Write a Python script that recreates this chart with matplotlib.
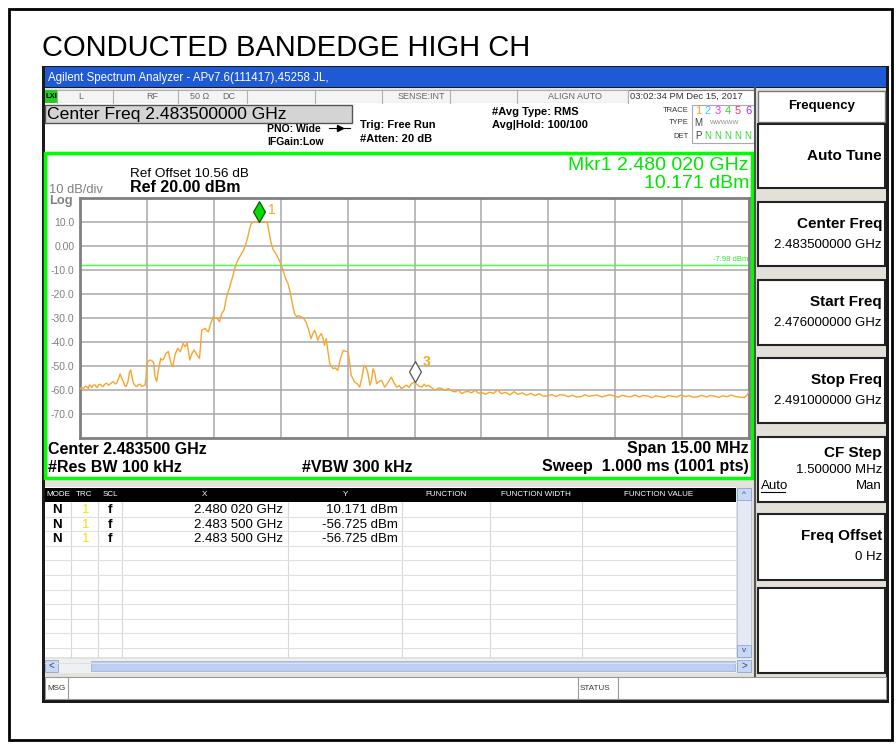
import numpy as np
import matplotlib
matplotlib.use('Agg')
import matplotlib.pyplot as plt
from matplotlib.patches import Rectangle
from matplotlib.path import Path

plt.rcParams['font.family'] = ['Liberation Sans', 'DejaVu Sans']

# ---- data ----
title = 'CONDUCTED BANDEDGE HIGH CH'
start_ghz = 2.476
stop_ghz = 2.491
ref_dbm = 20.0
bottom_dbm = -80.0
limit_dbm = -7.98

# trace: offset from start freq (MHz) and level (dBm)
freq_offset_mhz = [
    0.00, 0.04, 0.08, 0.12, 0.15, 0.19, 0.21, 0.24, 0.26, 0.30, 0.34, 0.37, 0.39, 0.42, 0.45,
    0.49, 0.52, 0.56, 0.60, 0.64, 0.67, 0.71, 0.75, 0.79, 0.82, 0.86, 0.90, 0.93, 0.97, 1.00,
    1.03, 1.06, 1.08, 1.11, 1.14, 1.17, 1.20, 1.24, 1.27, 1.31, 1.35, 1.38, 1.42, 1.46, 1.48,
    1.50, 1.54, 1.57, 1.61, 1.65, 1.68, 1.72, 1.76, 1.81, 1.84, 1.87, 1.93, 1.98, 2.04, 2.08,
    2.13, 2.19, 2.25, 2.31, 2.36, 2.40, 2.46, 2.51, 2.56, 2.62, 2.68, 2.73, 2.78, 2.81, 2.85,
    2.88, 2.93, 2.99, 3.04, 3.07, 3.13, 3.18, 3.23, 3.29, 3.35, 3.41, 3.49, 3.55, 3.60, 3.66,
    3.71, 3.76, 3.80, 3.84, 3.90, 3.96, 4.02, 4.08, 4.14, 4.20, 4.24, 4.28, 4.33, 4.39, 4.45,
    4.50, 4.56, 4.61, 4.66, 4.71, 4.76, 4.81, 4.86, 4.90, 4.96, 5.01, 5.07, 5.12, 5.18, 5.22,
    5.26, 5.30, 5.33, 5.37, 5.41, 5.45, 5.48, 5.52, 5.56, 5.60, 5.67, 5.72, 5.78, 5.84, 5.90,
    5.95, 6.01, 6.05, 6.08, 6.16, 6.22, 6.27, 6.32, 6.37, 6.41, 6.45, 6.50, 6.54, 6.57, 6.61,
    6.65, 6.70, 6.76, 6.80, 6.83, 6.87, 6.91, 6.98, 7.04, 7.10, 7.16, 7.21, 7.27, 7.32, 7.38,
    7.43, 7.50, 7.55, 7.60, 7.66, 7.72, 7.76, 7.81, 7.88, 7.96, 8.04, 8.11, 8.18, 8.26, 8.34,
    8.41, 8.48, 8.56, 8.63, 8.71, 8.78, 8.86, 8.93, 9.01, 9.10, 9.18, 9.27, 9.36, 9.45, 9.54,
    9.64, 9.73, 9.82, 9.92, 10.01, 10.11, 10.20, 10.30, 10.39, 10.48, 10.57, 10.67, 10.76, 10.85, 10.95,
    11.04, 11.13, 11.23, 11.32, 11.41, 11.51, 11.60, 11.70, 11.79, 11.88, 11.98, 12.07, 12.16, 12.26, 12.35,
    12.44, 12.54, 12.63, 12.73, 12.82, 12.91, 13.01, 13.10, 13.19, 13.29, 13.38, 13.47, 13.57, 13.66, 13.75,
    13.85, 13.94, 14.04, 14.13, 14.22, 14.32, 14.41, 14.51, 14.60, 14.69, 14.79, 14.90, 14.96, 15.00]
level_dbm = [
    -59.7, -59.0, -59.3, -58.4, -58.6, -59.4, -57.9, -58.2, -59.0, -58.0, -57.9, -58.8, -58.9, -57.8, -57.6,
    -58.4, -58.6, -57.5, -57.2, -58.0, -57.6, -57.0, -56.5, -57.5, -57.2, -55.5, -53.3, -54.8, -56.5, -58.0,
    -58.6, -57.4, -56.0, -52.5, -51.7, -55.0, -57.2, -58.2, -58.6, -57.8, -57.6, -58.4, -58.3, -57.9, -55.1,
    -48.6, -48.0, -47.5, -47.8, -48.5, -54.4, -56.5, -51.5, -46.8, -47.5, -47.3, -44.7, -44.0, -48.9, -50.3,
    -45.4, -42.6, -44.0, -40.6, -42.0, -40.3, -47.5, -44.8, -43.3, -45.4, -46.8, -35.0, -34.6, -34.3, -35.5,
    -35.7, -32.2, -29.4, -30.0, -30.1, -31.5, -28.1, -26.7, -21.0, -17.5, -13.6, -8.1, -5.5, -3.9, -2.0,
    0.3, 3.5, 7.0, 9.4, 10.0, 10.0, 10.17, 10.1, 10.1, 9.8, 5.5, 1.7, -1.5, -3.2, -5.2,
    -7.4, -10.5, -13.6, -15.5, -19.0, -24.0, -28.2, -29.5, -29.0, -29.6, -30.0, -31.7, -34.5, -38.6, -36.5,
    -35.1, -37.0, -39.3, -37.5, -36.5, -38.5, -41.4, -38.6, -44.0, -49.0, -51.1, -50.8, -51.8, -47.0, -43.5,
    -43.8, -44.2, -49.0, -53.9, -56.7, -57.5, -58.8, -55.0, -49.7, -50.5, -52.5, -58.0, -55.5, -51.1, -53.0,
    -57.4, -56.5, -56.0, -57.5, -58.8, -57.9, -56.7, -54.6, -57.0, -58.8, -58.2, -59.4, -58.6, -58.0, -58.9,
    -57.4, -56.7, -57.6, -58.4, -58.8, -57.6, -58.5, -58.0, -59.0, -60.1, -59.2, -59.4, -60.2, -59.4, -60.4,
    -60.8, -60.0, -61.5, -60.8, -60.6, -61.2, -60.1, -61.3, -61.1, -61.8, -60.9, -61.4, -60.0, -61.5, -61.0,
    -62.0, -60.7, -61.8, -61.2, -62.2, -61.4, -62.3, -61.6, -62.6, -62.5, -61.9, -62.7, -62.0, -62.1, -62.8,
    -62.2, -62.9, -62.8, -62.0, -62.6, -62.3, -62.1, -62.9, -62.4, -62.0, -62.5, -63.0, -62.2, -62.7, -62.8,
    -62.1, -62.9, -62.3, -62.5, -63.2, -62.4, -62.8, -63.1, -62.3, -62.6, -62.9, -62.1, -62.7, -62.4, -63.0,
    -62.8, -62.2, -62.9, -62.3, -62.5, -63.1, -62.4, -62.8, -62.1, -62.7, -63.0, -63.1, -62.0, -60.7]

ytick_vals = [10, 0, -10, -20, -30, -40, -50, -60, -70]
ytick_labels = ['10.0', '0.00', '-10.0', '-20.0', '-30.0', '-40.0', '-50.0', '-60.0', '-70.0']

mkr_mode = ['N', 'N', 'N']
mkr_trc = ['1', '1', '1']
mkr_scl = ['f', 'f', 'f']
mkr_x_ghz = [2.480020, 2.483500, 2.483500]
mkr_y_dbm = [10.171, -56.725, -56.725]
mkr_x_text = ['2.480 020 GHz', '2.483 500 GHz', '2.483 500 GHz']
mkr_y_text = ['10.171 dBm', '-56.725 dBm', '-56.725 dBm']

softkey_titles = ['Auto Tune', 'Center Freq', 'Start Freq', 'Stop Freq', 'CF Step', 'Freq Offset']
softkey_values = ['', '2.483500000 GHz', '2.476000000 GHz', '2.491000000 GHz', '1.500000 MHz', '0 Hz']

freq_ghz = start_ghz + np.array(freq_offset_mhz) / 1000.0

# ---- figure, pixel-space background axes ----
fig = plt.figure(figsize=(8.96, 7.45), dpi=100)
bg = fig.add_axes([0, 0, 1, 1])
bg.set_xlim(0, 896)
bg.set_ylim(745, 0)
bg.axis('off')


def box(x0, y0, x1, y1, fc='white', ec='none', lw=1.0, z=1):
    bg.add_patch(Rectangle((x0, y0), x1 - x0, y1 - y0, fc=fc, ec=ec, lw=lw, zorder=z))


def txt(x, y, s, size=8, ha='left', color='black', weight='normal', **kw):
    bg.text(x, y, s, fontsize=size, ha=ha, va='center', color=color, weight=weight, zorder=5, **kw)


# page frame + title
box(9, 9, 892, 740, fc='white', ec='black', lw=2)
txt(42, 48, title, size=21)

# screenshot frame
box(42, 66, 889, 703, fc='#1a1a1a')
box(45, 88, 886, 700, fc='#e4e2dc')

# title bar
box(45, 67, 886, 87, fc='#1f5ad6')
txt(48, 77.5, 'Agilent Spectrum Analyzer - APv7.6(111417),45258 JL,', size=8.3, color='white')

# status row
box(45, 90, 755, 103, fc='#f4f4f4', ec='#b0b0b0', lw=0.8)
box(45, 90, 57, 103, fc='#22cc22')
txt(46, 96.5, 'LXI', size=5.5, weight='bold')
for sx in [57, 113, 178, 247, 315, 382, 450, 517, 628]:
    bg.plot([sx, sx], [90, 103], color='#b0b0b0', lw=0.8, zorder=2)
txt(78, 96.5, 'L', size=6.5, color='#666666')
txt(146, 96.5, 'RF', size=6.5, color='#666666')
txt(190, 96.5, '50 Ω', size=6.5, color='#666666')
txt(222, 96.5, 'DC', size=6.5, color='#666666')
txt(445, 96.5, 'SENSE:INT', size=6.5, ha='right', color='#666666')
txt(575, 96.5, 'ALIGN AUTO', size=6.5, ha='center', color='#666666')
box(628, 90, 755, 103, fc='white', ec='#808080', lw=0.8)
txt(630, 96.5, '03:02:34 PM Dec 15, 2017', size=6.8, color='#333333')

# settings area
box(45, 103, 755, 152, fc='white')
box(45, 105, 352, 123, fc='#d4d4d4', ec='#555555', lw=1)
txt(47, 114, 'Center Freq 2.483500000 GHz', size=12.6)
txt(267, 129, 'PNO: Wide', size=7.5, weight='bold')
bg.plot([329, 350], [128, 128], color='black', lw=0.8, zorder=5)
bg.plot([340], [128], marker='>', ms=4, color='black', zorder=5)
txt(267, 142, 'IFGain:Low', size=7.5, weight='bold')
txt(360, 125, 'Trig: Free Run', size=8, weight='bold')
txt(360, 139, '#Atten: 20 dB', size=8, weight='bold')
txt(492, 112, '#Avg Type: RMS', size=8, weight='bold')
txt(492, 125, 'Avg|Hold: 100/100', size=8, weight='bold')
txt(689, 111, 'TRACE', size=5.5, ha='right', color='#333333')
txt(689, 123, 'TYPE', size=5.5, ha='right', color='#333333')
txt(689, 136, 'DET', size=5.5, ha='right', color='#333333')
box(692, 105, 754, 143, fc='white', ec='#aaaaaa', lw=0.8)
trace_colors = ['#f5a623', '#33ccff', '#ff33ff', '#33dd33', '#ff3377', '#9933ff']
for i, c in enumerate(trace_colors):
    txt(698 + 10 * i, 111, str(i + 1), size=8, ha='center', color=c)
txt(698, 123, 'M', size=7, ha='center', color='#444444')
txt(725, 123, 'WWWWW', size=4.5, ha='center', color='#888888')
txt(698, 136, 'P', size=7, ha='center', color='#444444')
for i in range(5):
    txt(708 + 10 * i, 136, 'N', size=7, ha='center', color='#33dd33')

# green plot panel
box(45, 153, 752, 478, fc='white', ec='#00ff00', lw=2.5)
txt(130, 174, 'Ref Offset 10.56 dB', size=9.7)
txt(130, 188, 'Ref 20.00 dBm', size=11.5, weight='bold')
txt(49, 190, '10 dB/div', size=9.3, color='#808080')
txt(49, 201, 'Log', size=9.3, color='#808080', weight='bold')
txt(749, 165, f'Mkr1 {mkr_x_text[0]}', size=14, ha='right', color='#00e600')
txt(749, 184, mkr_y_text[0], size=14, ha='right', color='#00e600')
txt(48, 449, 'Center 2.483500 GHz', size=11.5, weight='bold')
txt(48, 467, '#Res BW 100 kHz', size=11.5, weight='bold')
txt(302, 467, '#VBW 300 kHz', size=11.5, weight='bold')
txt(749, 449, 'Span 15.00 MHz', size=11.5, ha='right', weight='bold')
txt(749, 467, 'Sweep  1.000 ms (1001 pts)', size=11.5, ha='right', weight='bold')

# marker table
box(45, 487, 736, 657, fc='white')
box(45, 488, 736, 502, fc='black')
col_edges = [45, 71, 98, 122, 288, 402, 490, 582, 736]
headers = ['MODE', 'TRC', 'SCL', 'X', 'Y', 'FUNCTION', 'FUNCTION WIDTH', 'FUNCTION VALUE']
for i, h in enumerate(headers):
    txt((col_edges[i] + col_edges[i + 1]) / 2, 495, h, size=5.8, ha='center', color='white')
    if i > 0:
        bg.plot([col_edges[i]] * 2, [502, 657], color='#d8d8d8', lw=0.8, zorder=2)
for k in range(11):
    yy = 502 + 14.6 * (k + 1)
    bg.plot([45, 736], [yy, yy], color='#e0e0e0', lw=0.8, zorder=2)
for r in range(len(mkr_mode)):
    yy = 510 + 14.6 * r
    txt(57, yy, mkr_mode[r], size=9.5, ha='center', weight='bold')
    txt(86, yy, mkr_trc[r], size=9.5, ha='center', color='#f2e200')
    txt(110, yy, mkr_scl[r], size=9.5, ha='center', weight='bold')
    txt(283, yy, mkr_x_text[r], size=9.5, ha='right')
    txt(398, yy, mkr_y_text[r], size=9.5, ha='right')

# scrollbars
box(737, 488, 751, 657, fc='#e3eaf6', ec='#b8c4d8', lw=0.6)
box(737, 488, 751, 500, fc='#c8d8f4', ec='#8ea6d0', lw=0.6)
box(737, 645, 751, 657, fc='#c8d8f4', ec='#8ea6d0', lw=0.6)
txt(744, 494, '^', size=6, ha='center', color='#334477')
txt(744, 650, 'v', size=6, ha='center', color='#334477')
box(45, 659, 751, 673, fc='#eef0f4')
box(45, 660, 58, 672, fc='#c8d8f4', ec='#8ea6d0', lw=0.6)
box(737, 660, 751, 672, fc='#c8d8f4', ec='#8ea6d0', lw=0.6)
box(91, 661, 735, 671, fc='#bccff2', ec='#9cb4e0', lw=0.6)
txt(51, 666, '<', size=7, ha='center', color='#334477')
txt(744, 666, '>', size=7, ha='center', color='#334477')

# message bar
box(45, 677, 886, 699, fc='white', ec='#999999', lw=0.8)
for sx in [68, 578, 618]:
    bg.plot([sx, sx], [677, 699], color='#999999', lw=0.8, zorder=2)
txt(47, 688, 'MSG', size=5.8, color='#333333')
txt(580, 688, 'STATUS', size=5.8, color='#333333')

# right softkey panel
box(755, 88, 886, 676, fc='#e2e0d8')
bg.plot([755, 755], [88, 676], color='#555555', lw=1.5, zorder=2)
box(758, 91, 885, 122, fc='white', ec='#777777', lw=1)
txt(821.5, 106, 'Frequency', size=9.5, ha='center', weight='bold')
key_tops = [124, 202, 280, 358, 437, 514]
key_bottoms = [188, 266, 345, 423, 502, 580]
for t, v, y0, y1 in zip(softkey_titles, softkey_values, key_tops, key_bottoms):
    box(758, y0, 885, y1, fc='white', ec='#222222', lw=1.5)
    if v == '':
        txt(882, (y0 + y1) / 2, t, size=11, ha='right', weight='bold')
    elif t == 'CF Step':
        txt(882, y0 + 16, t, size=11, ha='right', weight='bold')
        txt(882, y0 + 33, v, size=9.5, ha='right')
        txt(761, y0 + 49, 'Auto', size=9.5)
        bg.plot([761, 785], [y0 + 55, y0 + 55], color='black', lw=0.8, zorder=5)
        txt(882, y0 + 49, 'Man', size=9.5, ha='right')
    else:
        txt(882, y0 + 22, t, size=11, ha='right', weight='bold')
        txt(882, y0 + 43, v, size=9.5, ha='right')
box(758, 588, 885, 673, fc='white', ec='#222222', lw=1.5)

# ---- the trace plot ----
ax = fig.add_axes([80 / 896, (745 - 438) / 745, 669 / 896, 240 / 745])
ax.set_facecolor('white')
ax.set_xlim(start_ghz, stop_ghz)
ax.set_ylim(bottom_dbm, ref_dbm)
ax.set_xticks(np.linspace(start_ghz, stop_ghz, 11))
ax.set_xticklabels([])
ax.set_yticks(ytick_vals)
ax.set_yticklabels(ytick_labels, fontsize=7.5, color='#808080')
ax.tick_params(length=0, pad=4)
ax.grid(True, color='#a8a8a8', lw=1.1)
ax.set_axisbelow(True)
for s in ax.spines.values():
    s.set_color('#808080')
    s.set_linewidth(2)

ax.axhline(limit_dbm, color='#44ff44', lw=1)
ax.text(stop_ghz - 0.00002, limit_dbm + 1.0, f'{limit_dbm:.2f} dBm', fontsize=5.5,
        color='#33dd33', ha='right', va='bottom')

ax.plot(freq_ghz, level_dbm, color='#f7a531', lw=1.0, zorder=3)

# marker diamond sits on top of the marked point
diamond = Path([(0, 0), (0.57, 1), (0, 2), (-0.57, 1), (0, 0)],
               [Path.MOVETO, Path.LINETO, Path.LINETO, Path.LINETO, Path.CLOSEPOLY])
ax.plot(mkr_x_ghz[1], mkr_y_dbm[1], marker=diamond, ms=30, mfc='white', mec='#555555',
        mew=0.9, zorder=4, clip_on=False)
ax.plot(mkr_x_ghz[0], mkr_y_dbm[0], marker=diamond, ms=30, mfc='#00e000', mec='#115511',
        mew=0.9, zorder=5, clip_on=False)
ax.annotate('1', (mkr_x_ghz[0], mkr_y_dbm[0]), xytext=(6, 8.5), textcoords='offset points',
            fontsize=10, color='#f5a623', va='center', annotation_clip=False)
ax.annotate('3', (mkr_x_ghz[2], mkr_y_dbm[2]), xytext=(6, 14.5), textcoords='offset points',
            fontsize=10, color='#f5a623', va='center', weight='bold')

fig.savefig('out.png', dpi=100)
